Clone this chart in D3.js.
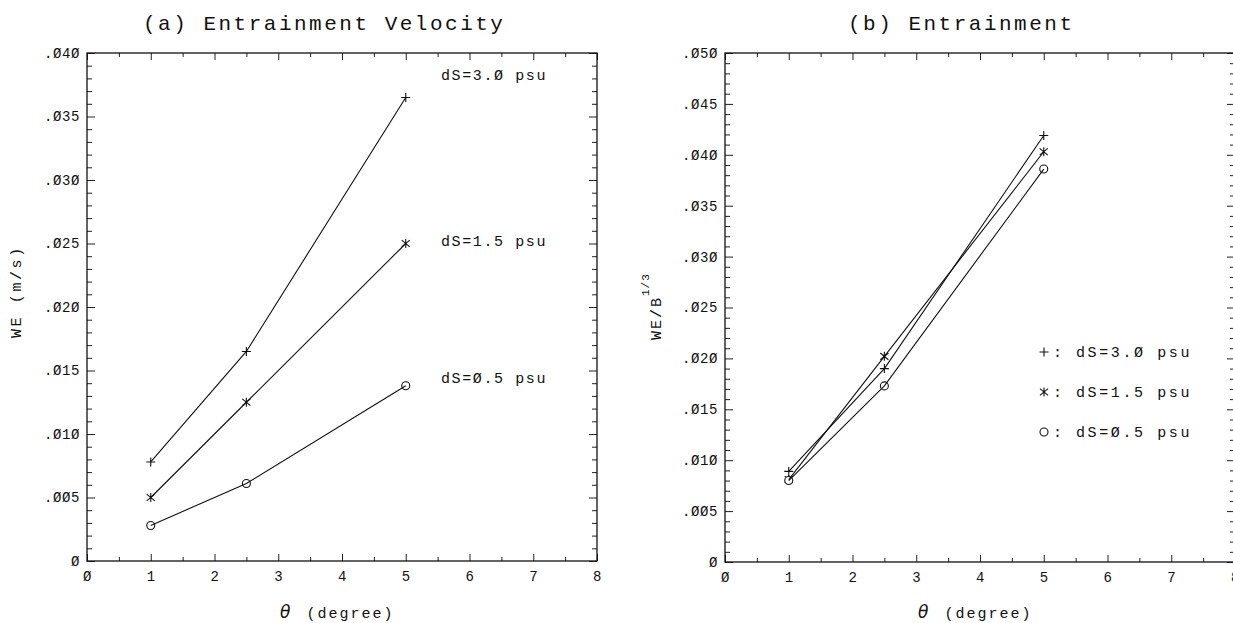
<!DOCTYPE html>
<html>
<head>
<meta charset="utf-8">
<script src="https://cdn.jsdelivr.net/npm/d3@7"></script>
<style>
  html, body { margin: 0; padding: 0; background: #fff; }
  svg text { font-family: "Liberation Mono", "DejaVu Sans Mono", monospace; fill: #111; }
</style>
</head>
<body>
<svg id="chart" width="1233" height="623"></svg>
<script>
// Entrainment experiments: slope angle (degree) vs. entrainment velocity
const thetaDeg = [1, 2.5, 5];

// (a) entrainment velocity WE (m/s)
const weDs30 = [0.0078, 0.0165, 0.0365];
const weDs15 = [0.0050, 0.0125, 0.0250];
const weDs05 = [0.0028, 0.0061, 0.0138];

// (b) entrainment normalised by buoyancy flux, WE / B^(1/3)
const normDs30 = [0.0089, 0.0190, 0.0419];
const normDs15 = [0.0081, 0.0202, 0.0403];
const normDs05 = [0.0080, 0.0173, 0.0386];

const seriesNames = ["dS=3.Ø psu", "dS=1.5 psu", "dS=Ø.5 psu"];
const seriesMarks = ["plus", "star", "circle"];

const xTickValues = [0, 1, 2, 3, 4, 5, 6, 7, 8];
const yTicksA = [0, 0.005, 0.010, 0.015, 0.020, 0.025, 0.030, 0.035, 0.040];
const yTicksB = [0, 0.005, 0.010, 0.015, 0.020, 0.025, 0.030, 0.035, 0.040, 0.045, 0.050];

// in-plot labels of panel (a), placed at these WE levels
const labelLevelsA = [0.0383, 0.0252, 0.0144];

const svg = d3.select("#chart");

// tick labels drawn with slashed zeros
const slash = s => s.replace(/0/g, "Ø");
const fmtY = v => v === 0 ? "Ø" : slash(d3.format(".3f")(v).replace(/^0/, ""));
const fmtX = v => slash(String(v));

function marker(g, type, cx, cy) {
  const s = 4.5;
  if (type === "plus") {
    g.append("path").attr("d", `M${cx - s},${cy}H${cx + s}M${cx},${cy - s}V${cy + s}`);
  } else if (type === "star") {
    const dx = s * 0.9, dy = s * 0.75;
    g.append("path").attr("d",
      `M${cx},${cy - s}V${cy + s}M${cx - dx},${cy - dy}L${cx + dx},${cy + dy}M${cx - dx},${cy + dy}L${cx + dx},${cy - dy}`);
  } else {
    g.append("circle").attr("cx", cx).attr("cy", cy).attr("r", 4).attr("fill", "#fff");
  }
}

function panel(opt) {
  const x = d3.scaleLinear().domain([0, 8]).range([opt.left, opt.left + 510]);
  const y = d3.scaleLinear().domain([0, opt.ymax]).range([opt.bottom, opt.top]);
  const g = svg.append("g");

  const minorX = d3.range(0, 8.01, 0.5).filter(v => v % 1 !== 0);
  const minorY = d3.range(0, opt.ymax + 1e-9, 0.001).filter(v => !opt.yTicks.some(t => Math.abs(t - v) < 1e-9));

  const axisStyle = sel => {
    sel.select(".domain").remove();
    sel.selectAll("line").attr("stroke", "#222").attr("stroke-width", 1);
    sel.selectAll("text").style("font-size", "14px").style("letter-spacing", "0.6px").attr("fill", "#111");
  };

  // bottom axis with labels, ticks pointing inward
  g.append("g").attr("transform", `translate(0,${opt.bottom})`)
    .call(d3.axisBottom(x).tickValues(xTickValues).tickSize(-7).tickPadding(10).tickFormat(fmtX))
    .call(axisStyle);
  g.append("g").attr("transform", `translate(0,${opt.bottom})`)
    .call(d3.axisBottom(x).tickValues(minorX).tickSize(-4).tickFormat(""))
    .call(axisStyle);
  // top axis ticks
  g.append("g").attr("transform", `translate(0,${opt.top})`)
    .call(d3.axisTop(x).tickValues(xTickValues).tickSize(-7).tickFormat(""))
    .call(axisStyle);
  g.append("g").attr("transform", `translate(0,${opt.top})`)
    .call(d3.axisTop(x).tickValues(minorX).tickSize(-4).tickFormat(""))
    .call(axisStyle);
  // left axis with labels
  g.append("g").attr("transform", `translate(${opt.left},0)`)
    .call(d3.axisLeft(y).tickValues(opt.yTicks).tickSize(-8).tickPadding(7).tickFormat(fmtY))
    .call(axisStyle);
  g.append("g").attr("transform", `translate(${opt.left},0)`)
    .call(d3.axisLeft(y).tickValues(minorY).tickSize(-5).tickFormat(""))
    .call(axisStyle);
  // right axis ticks
  g.append("g").attr("transform", `translate(${opt.left + 510},0)`)
    .call(d3.axisRight(y).tickValues(opt.yTicks).tickSize(-8).tickFormat(""))
    .call(axisStyle);
  g.append("g").attr("transform", `translate(${opt.left + 510},0)`)
    .call(d3.axisRight(y).tickValues(minorY).tickSize(-5).tickFormat(""))
    .call(axisStyle);

  // frame
  g.append("rect")
    .attr("x", opt.left).attr("y", opt.top)
    .attr("width", 510).attr("height", opt.bottom - opt.top)
    .attr("fill", "none").attr("stroke", "#111").attr("stroke-width", 1.3);

  // series lines and markers
  const line = d3.line().x(d => x(d[0])).y(d => y(d[1]));
  const markG = g.append("g").attr("stroke", "#111").attr("stroke-width", 1.1).attr("fill", "none");
  opt.series.forEach(vals => {
    const pts = thetaDeg.map((t, k) => [t, vals[k]]);
    g.append("path").datum(pts).attr("d", line)
      .attr("fill", "none").attr("stroke", "#111").attr("stroke-width", 1.1);
  });
  opt.series.forEach((vals, i) => {
    thetaDeg.forEach((t, k) => marker(markG, seriesMarks[i], x(t), y(vals[k])));
  });

  // title
  g.append("text").attr("x", opt.titleX).attr("y", 30)
    .style("font-size", "21px").style("letter-spacing", "2.5px")
    .text(opt.title);

  // x axis title
  const xt = g.append("text").attr("x", opt.left + 193).attr("y", 618)
    .style("font-size", "15px").style("letter-spacing", "2px");
  xt.append("tspan").style("font-family", "DejaVu Sans").style("font-style", "italic")
    .style("font-size", "17px").text("θ");
  xt.append("tspan").attr("dx", 14).text("(degree)");

  return { g, x, y };
}

// (a)
const pa = panel({
  left: 87, top: 53, bottom: 561, ymax: 0.040, yTicks: yTicksA,
  series: [weDs30, weDs15, weDs05],
  title: "(a) Entrainment Velocity", titleX: 143
});
pa.g.append("text").attr("transform", "translate(21,338) rotate(-90)")
  .style("font-size", "15px").style("letter-spacing", "2.6px").text("WE (m/s)");
labelLevelsA.forEach((lv, i) => {
  pa.g.append("text")
    .attr("x", 441).attr("y", pa.y(lv) + 5)
    .style("font-size", "15px").style("letter-spacing", "1.6px")
    .text(seriesNames[i]);
});

// (b)
const pb = panel({
  left: 725, top: 53, bottom: 562, ymax: 0.050, yTicks: yTicksB,
  series: [normDs30, normDs15, normDs05],
  title: "(b) Entrainment", titleX: 848
});
const yl = pb.g.append("text").attr("transform", "translate(661,340) rotate(-90)")
  .style("font-size", "15px").style("letter-spacing", "2px");
yl.append("tspan").text("WE/B");
yl.append("tspan").attr("dy", -12).style("font-size", "11px").style("letter-spacing", "1px").text("1/3");

// legend
const legG = pb.g.append("g");
seriesNames.forEach((name, i) => {
  const ly = 352 + i * 40;
  const mg = legG.append("g").attr("stroke", "#111").attr("stroke-width", 1.1).attr("fill", "none");
  marker(mg, seriesMarks[i], 1044, ly);
  legG.append("text").attr("x", 1053).attr("y", ly + 5)
    .style("font-size", "15px").text(":");
  legG.append("text").attr("x", 1076).attr("y", ly + 5)
    .style("font-size", "15px").style("letter-spacing", "2.6px").text(name);
});
</script>
</body>
</html>
